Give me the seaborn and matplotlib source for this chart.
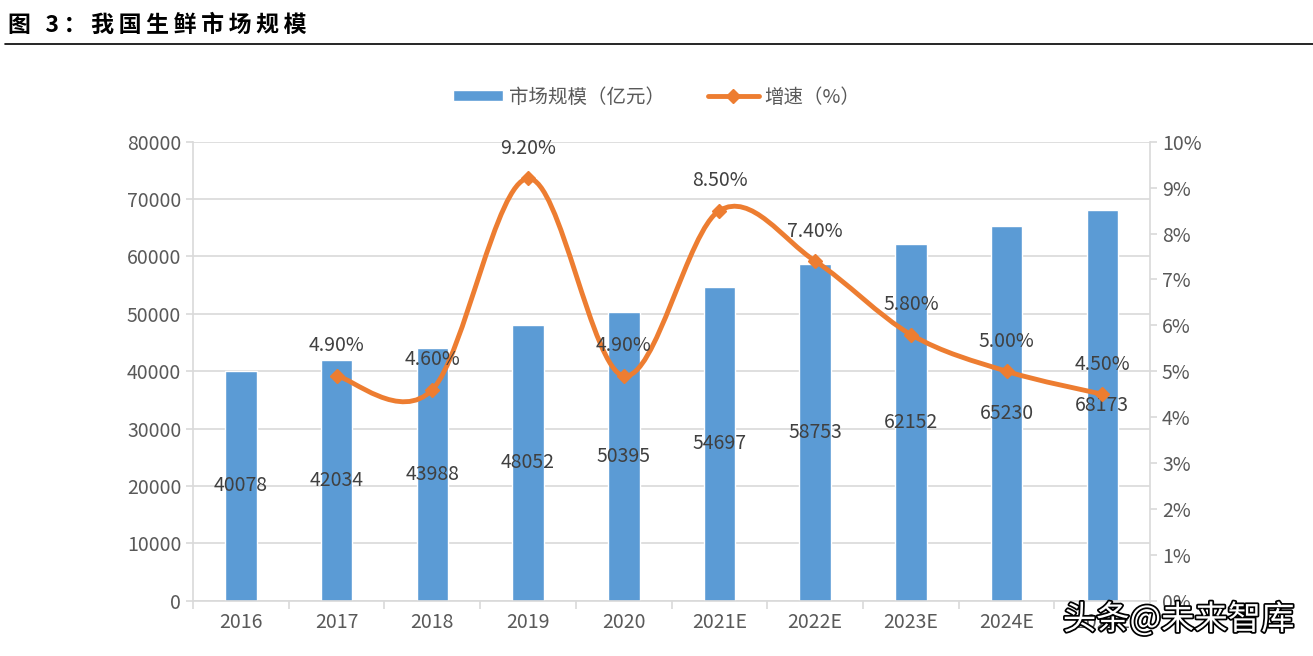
import numpy as np
import pandas as pd
import matplotlib
matplotlib.use("Agg")
import matplotlib.pyplot as plt
import seaborn as sns
from matplotlib.path import Path
from matplotlib.patches import PathPatch, Patch
from matplotlib.lines import Line2D
import matplotlib.patheffects as pe

# Data
years = ["2016", "2017", "2018", "2019", "2020", "2021E", "2022E", "2023E", "2024E", "2025E"]
market_size = [40078, 42034, 43988, 48052, 50395, 54697, 58753, 62152, 65230, 68173]
growth_years = ["2017", "2018", "2019", "2020", "2021E", "2022E", "2023E", "2024E", "2025E"]
growth = [4.90, 4.60, 9.20, 4.90, 8.50, 7.40, 5.80, 5.00, 4.50]

bar_color = "#5B9BD5"
line_color = "#ED7D31"
text_color = "#595959"
axis_color = "#D9D9D9"

sns.set_style("white")
plt.rcParams["font.family"] = ["Noto Sans CJK SC", "DejaVu Sans"]

df = pd.DataFrame({"year": years, "size": market_size})

fig = plt.figure(figsize=(13.13, 6.56), dpi=100)
ax = fig.add_axes([0.147, 0.084, 0.729, 0.700])

sns.barplot(data=df, x="year", y="size", color=bar_color, width=0.33,
            saturation=1, ax=ax)
ax.set_ylim(0, 80000)
ax.set_xlim(-0.5, len(years) - 0.5)
ax.set_yticks(np.arange(0, 80001, 10000))
ax.set_xlabel("")
ax.set_ylabel("")
ax.yaxis.grid(True, color=axis_color, linewidth=1.2)
ax.set_axisbelow(True)
for side in ["top", "right"]:
    ax.spines[side].set_visible(False)
for side in ["left", "bottom"]:
    ax.spines[side].set_color(axis_color)
    ax.spines[side].set_linewidth(1.2)
ax.tick_params(axis="y", colors=axis_color, labelcolor=text_color, labelsize=14,
               length=5, width=1.2, left=True)
ax.tick_params(axis="x", which="major", length=0, labelcolor=text_color,
               labelsize=14, pad=8)
ax.set_xticks(np.arange(-0.5, len(years), 1), minor=True)
ax.tick_params(axis="x", which="minor", length=6, width=1.2, color=axis_color,
               bottom=True)

# bar value labels at middle of each bar
for i, v in enumerate(market_size):
    ax.text(i, v / 2, str(v), ha="center", va="center", fontsize=14,
            color="#404040")

# growth line on right axis
ax2 = ax.twinx()
ax2.set_ylim(0, 10)
ax2.set_yticks(np.arange(0, 11, 1))
ax2.set_yticklabels([f"{t}%" for t in range(0, 11)])
for side in ["top", "left", "bottom"]:
    ax2.spines[side].set_visible(False)
ax2.spines["right"].set_color(axis_color)
ax2.spines["right"].set_linewidth(1.2)
ax2.tick_params(axis="y", colors=axis_color, labelcolor=text_color, labelsize=14,
                length=5, width=1.2, right=True)

gx = np.array([years.index(y) for y in growth_years], dtype=float)
gy = np.array(growth)

# Excel-style smoothed line (Catmull-Rom as cubic Bezier segments)
pts = np.column_stack([gx, gy])
ext = np.vstack([pts[0], pts, pts[-1]])
verts = [tuple(pts[0])]
codes = [Path.MOVETO]
for k in range(len(pts) - 1):
    p0, p1, p2, p3 = ext[k], ext[k + 1], ext[k + 2], ext[k + 3]
    c1 = p1 + (p2 - p0) / 6
    c2 = p2 - (p3 - p1) / 6
    verts += [tuple(c1), tuple(c2), tuple(p2)]
    codes += [Path.CURVE4] * 3
ax2.add_patch(PathPatch(Path(verts, codes), facecolor="none",
                        edgecolor=line_color, linewidth=3.5, capstyle="round"))
ax2.plot(gx, gy, linestyle="none", marker="D", markersize=7, color=line_color)

for x, y in zip(gx, gy):
    ax2.annotate(f"{y:.2f}%", (x, y), xytext=(0, 14), textcoords="offset points",
                 ha="center", va="bottom", fontsize=14, color="#404040")

# legend
handles = [Patch(facecolor=bar_color, label="市场规模（亿元）"),
           Line2D([0], [0], color=line_color, linewidth=3.5, marker="D",
                  markersize=7, label="增速（%）")]
fig.legend(handles=handles, loc="center", bbox_to_anchor=(0.5, 0.852), ncol=2,
           frameon=False, fontsize=14, labelcolor=text_color,
           handlelength=2.6, handleheight=0.5, handletextpad=0.3,
           columnspacing=2.2)

# title and rule
title = "\u2009".join("图 3：") + "\u2009" + "\u2009".join("我国生鲜市场规模")
fig.text(0.006, 0.962, title, fontsize=16.5, fontweight="bold",
         ha="left", va="center", color="black")
fig.add_artist(Line2D([0.004, 1.0], [0.933, 0.933], color="black", linewidth=1.2))

# watermark
fig.text(0.986, 0.055, "头条@未来智库", fontsize=24, ha="right", va="center",
         color="white",
         path_effects=[pe.withStroke(linewidth=2.5, foreground="black")])

fig.savefig("out.png", dpi=100)
